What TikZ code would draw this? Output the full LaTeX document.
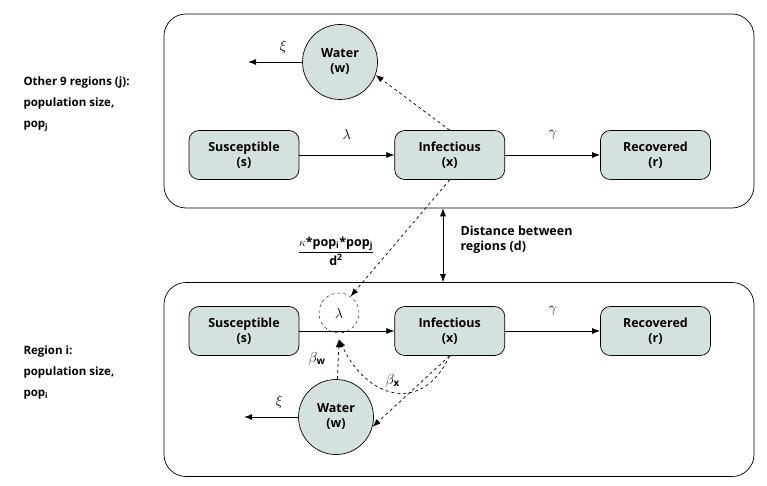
\documentclass[tikz,border=0pt]{standalone}
\usepackage{amsmath}
\usepackage{fontspec}
\setmainfont{Open Sans}
\usetikzlibrary{arrows.meta,positioning}
\definecolor{boxfill}{RGB}{213,225,224}

\begin{document}
\begin{tikzpicture}[
  x=1pt, y=1pt,
  node distance=5mm and 95pt,
  font=\bfseries\fontsize{12.5}{15}\selectfont,
  region/.style={draw, rounded corners=22pt, minimum width=590pt, minimum height=194pt, line width=0.7pt},
  state/.style={draw, fill=boxfill, rounded corners=10pt, align=center, minimum height=49pt, minimum width=110pt, line width=0.7pt},
  water/.style={draw, fill=boxfill, circle, align=center, minimum size=75pt, line width=0.7pt},
  rate/.style={draw, dashed, circle, minimum size=40pt, inner sep=0pt},
  lbl/.style={align=left, anchor=north west, font=\bfseries\fontsize{11.5}{21}\selectfont},
  greek/.style={font=\fontsize{14}{14}\selectfont},
  arr/.style={-{Latex[length=8pt]}, line width=0.7pt},
  darr/.style={arr, dashed}
]
\useasboundingbox (0,0) rectangle (767,-486);
% two regions
\node[region] (topreg) at (459,-111) {};
\node[region] (botreg) at (459,-379.5) {};
\node[lbl] (toplbl) at (20,-73) {Other 9 regions (j):\\population size,\\pop\textsubscript{j}};
\node[lbl] (botlbl) at (20,-342) {Region i:\\population size,\\pop\textsubscript{i}};

% other regions j
\node[state] (s1) at (244,-155) {Susceptible\\(s)};
\node[state, right=of s1] (x1) {Infectious\\(x)};
\node[state, right=of x1] (r1) {Recovered\\(r)};
\node[water] (w1) at (340,-62) {Water\\(w)};
\coordinate[left=54pt of w1.west] (xi1);
\draw[arr] (s1) -- node[greek, above=12pt] {$\lambda$} (x1);
\draw[arr] (x1) -- node[greek, above=12pt] {$\gamma$} (r1);
\draw[arr] (w1) -- node[greek, above=5pt, pos=0.35] {$\xi$} (xi1);
\draw[darr] (x1.north) -- (w1.-20);

% region i
\node[state] (s2) at (244,-331) {Susceptible\\(s)};
\node[state, right=of s2] (x2) {Infectious\\(x)};
\node[state, right=of x2] (r2) {Recovered\\(r)};
\node[rate, greek] (lam) at (339,-313) {$\lambda$};
\node[water] (w2) at (336,-417) {Water\\(w)};
\coordinate[left=54pt of w2.west] (xi2);
\draw[arr] (s2) -- (x2);
\draw[arr] (x2) -- node[greek, above=12pt] {$\gamma$} (r2);
\draw[arr] (w2) -- node[greek, above=5pt, pos=0.35] {$\xi$} (xi2);
\draw[darr] (w2) -- node[greek, left=9pt] {$\beta_{\textbf{w}}$} ([yshift=-6pt]lam.south);
\draw[darr] (x2.south) to[out=-115, in=-65, looseness=1.5] node[greek, pos=0.6, above right=-3pt and 0pt] {$\beta_{\textbf{x}}$} ([yshift=-6pt]lam.south);
\draw[darr] (x2.south) -- (w2.-15);

% coupling between regions
\draw[darr] (x1.south) -- (lam.55);
\draw[{Latex[length=8pt]}-{Latex[length=8pt]}, line width=0.7pt] ([xshift=-16pt]topreg.south) -- ([xshift=-16pt]botreg.north);
\node[align=left, anchor=west] (dist) at (457,-240) {Distance between\\regions (d)};
\node (frac) at (336,-251) {$\dfrac{\text{$\kappa$*pop\textsubscript{i}*pop\textsubscript{j}}}{\text{d\textsuperscript{2}}}$};
\end{tikzpicture}
\end{document}
